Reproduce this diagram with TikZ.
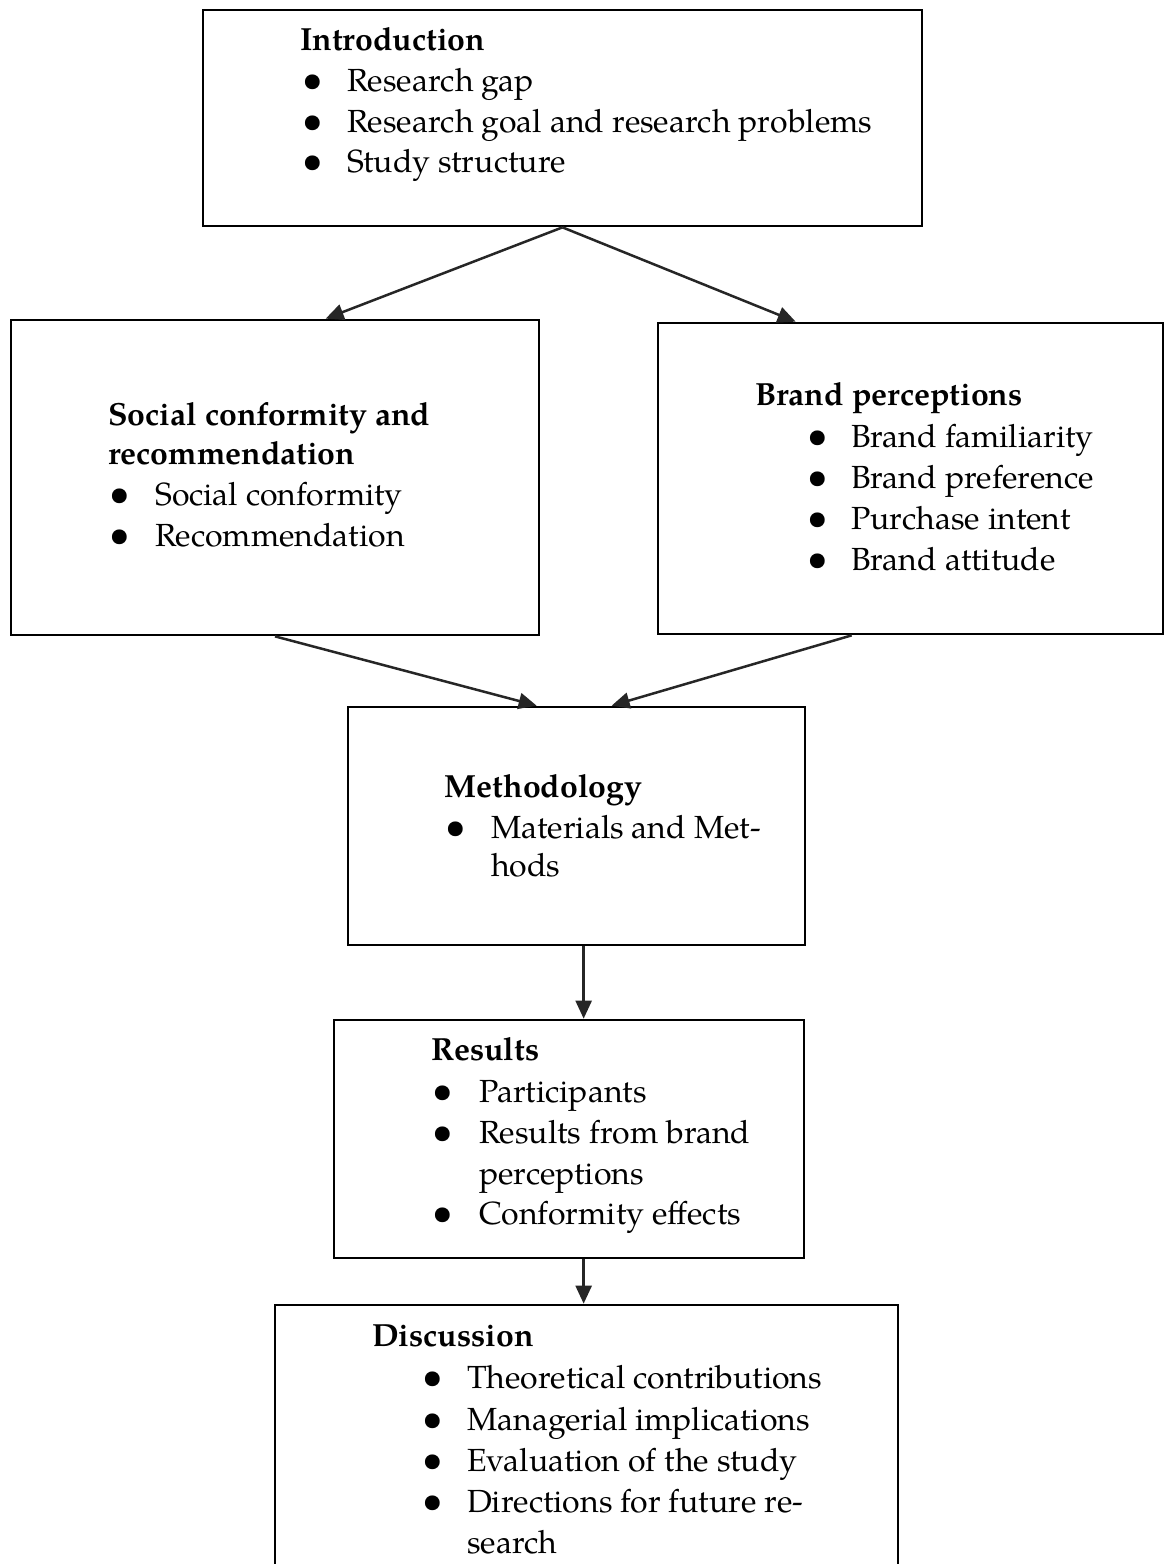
\documentclass[tikz,border=0pt]{standalone}
\usepackage{fontspec}
\setmainfont{TeX Gyre Pagella}
\usetikzlibrary{arrows.meta,calc}
\tikzset{
 box/.style={draw=black, line width=2.7pt, rectangle, inner sep=0pt},
 conn/.style={draw=black!85, line width=2.5pt, -{Triangle[length=18pt,width=16pt]}},
 txt/.style={inner sep=0pt, anchor=base west, font=\fontsize{32}{38}\selectfont},
 ttl/.style={txt, font=\fontsize{32}{38}\selectfont\bfseries},
 bul/.style={inner sep=0pt, anchor=base, font=\fontsize{32}{38}\selectfont},
}
\newcommand\itm[5]{\node[bul] (#1b) at (#2,#4) {\raisebox{-0.8pt}{\scalebox{1.15}{\textbullet}}}; \node[txt] (#1) at (#3,#4) {#5};}
\begin{document}
\begin{tikzpicture}[x=1pt,y=-1pt]
\clip (0,0) rectangle (1164,1564);
\fill[white] (0,0) rectangle (1164,1564);
% boxes
\node[box, minimum width=719pt, minimum height=216pt] (intro) at (562.5,118) {};
\node[box, minimum width=528pt, minimum height=315pt] (social) at (275,477.5) {};
\node[box, minimum width=505pt, minimum height=311pt] (brand) at (910.5,478.5) {};
\node[box, minimum width=457pt, minimum height=238pt] (meth) at (576.5,826) {};
\node[box, minimum width=470pt, minimum height=238pt] (res) at (569,1139) {};
\node[box, minimum width=623pt, minimum height=300pt] (disc) at (586.5,1455) {};
% intro text
\node[ttl] (introT) at (300,50) {Introduction};
\itm{i1}{313}{347}{91}{Research gap}
\itm{i2}{313}{347}{132}{Research goal and research problems}
\itm{i3}{313}{347}{172}{Study structure}
% social
\node[ttl] (socT1) at (108,425) {Social conformity and};
\node[ttl] (socT2) at (108,464) {recommendation};
\itm{s1}{120}{155}{505}{Social conformity}
\itm{s2}{120}{155}{546}{Recommendation}
% brand
\node[ttl] (brT) at (755,405) {Brand perceptions};
\itm{b1}{818}{851}{447}{Brand familiarity}
\itm{b2}{818}{851}{488}{Brand preference}
\itm{b3}{818}{851}{529}{Purchase intent}
\itm{b4}{818}{851}{570}{Brand attitude}
% methodology
\node[ttl] (mT) at (444,797) {Methodology};
\itm{m1}{456}{491}{838}{Materials and Met-}
\node[txt] (m2) at (491,876) {hods};
% results
\node[ttl] (rT) at (431,1060) {Results};
\itm{r1}{443}{479}{1102}{Participants}
\itm{r2}{443}{479}{1143}{Results from brand}
\node[txt] (r3) at (479,1184) {perceptions};
\itm{r4}{443}{479}{1224}{Conformity effects}
% discussion
\node[ttl] (dT) at (372,1346) {Discussion};
\itm{d1}{433}{467}{1388}{Theoretical contributions}
\itm{d2}{433}{467}{1430}{Managerial implications}
\itm{d3}{433}{467}{1471}{Evaluation of the study}
\itm{d4}{433}{467}{1512}{Directions for future re-}
\node[txt] (d5) at (467,1553) {search};
% connectors
\draw[conn] (intro.south) -- ($(social.north west)+(316,0)$);
\draw[conn] (intro.south) -- ($(brand.north west)+(139,0)$);
\draw[conn] (social.south) -- ($(meth.north west)+(190,0)$);
\draw[conn] ($(brand.south west)+(195,0)$) -- ($(meth.north west)+(265,0)$);
\coordinate (ms) at ($(meth.south west)+(237,0)$);
\draw[conn] (ms) -- (ms |- res.north);
\coordinate (rs) at ($(res.south west)+(251,0)$);
\draw[conn] (rs) -- (rs |- disc.north);
\end{tikzpicture}
\end{document}
